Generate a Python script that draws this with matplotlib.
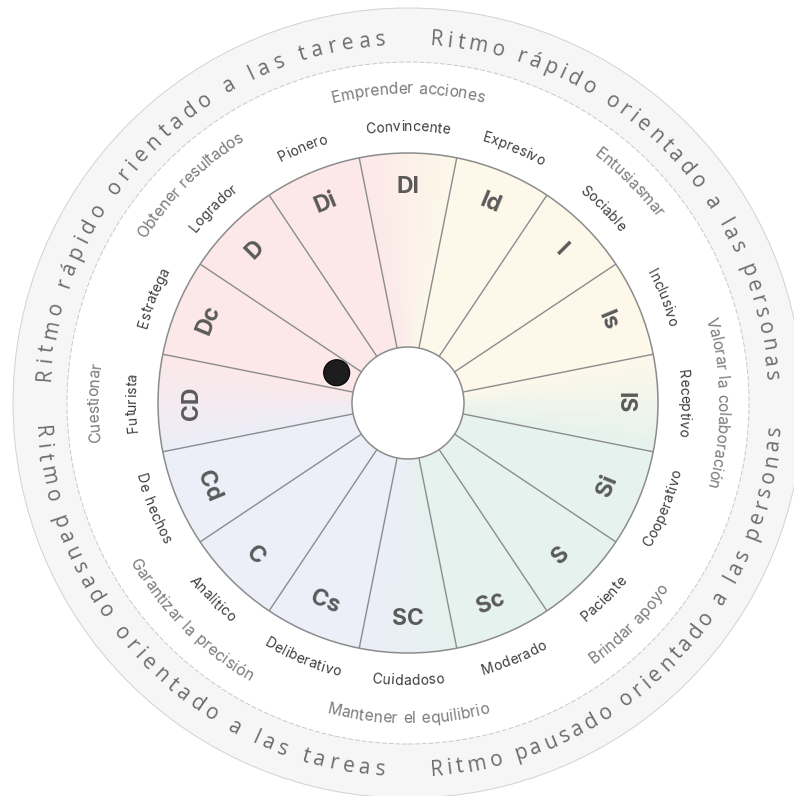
import numpy as np
import matplotlib
matplotlib.use('Agg')
import matplotlib.pyplot as plt
from matplotlib.patches import Wedge, Circle
from matplotlib.font_manager import FontProperties, findfont, get_font
import matplotlib.colors as mcolors

# ---------------- data ----------------
segments = ['DI', 'Di', 'D', 'Dc', 'CD', 'Cd', 'C', 'Cs',
            'SC', 'Sc', 'S', 'Si', 'IS', 'Is', 'I', 'Id']
segment_words = ['Convincente', 'Pionero', 'Logrador', 'Estratega', 'Futurista',
                 'De hechos', 'Analítico', 'Deliberativo', 'Cuidadoso', 'Moderado',
                 'Paciente', 'Cooperativo', 'Receptivo', 'Inclusivo', 'Sociable',
                 'Expresivo']
priorities = ['Emprender acciones', 'Obtener resultados', 'Cuestionar',
              'Garantizar la precisión', 'Mantener el equilibrio', 'Brindar apoyo',
              'Valorar la colaboración', 'Entusiasmar']
pace_labels = ['Ritmo rápido orientado a las personas',
               'Ritmo rápido orientado a las tareas',
               'Ritmo pausado orientado a las tareas',
               'Ritmo pausado orientado a las personas']
dot_angle = 157.0      # degrees
dot_radius = 0.31      # fraction of wheel radius

base_colors = {'D': '#fce8e9', 'I': '#fdf8ea', 'S': '#e6f2ee', 'C': '#eceef8'}

# ---------------- geometry / style ----------------
R_WHEEL = 250
R_HOLE = 56
R_RING_OUT = 395
R_RING_IN = 341
CX, CY = 408, 403   # pixel position of centre in the image

fig = plt.figure(figsize=(7.94, 7.96), dpi=100)
ax = fig.add_axes([0, 0, 1, 1])
ax.set_xlim(-CX, 794 - CX)
ax.set_ylim(CY - 796, CY)
ax.axis('off')

# outer grey ring
ax.add_patch(Wedge((0, 0), R_RING_OUT, 0, 360, width=R_RING_OUT - R_RING_IN,
                   facecolor='#f6f6f6', edgecolor='none', zorder=1))
ax.add_patch(Circle((0, 0), R_RING_OUT, facecolor='none', edgecolor='#d2d2d2',
                    lw=0.7, zorder=2))
ax.add_patch(Circle((0, 0), R_RING_IN, facecolor='none', edgecolor='#c9c9c9',
                    lw=0.7, linestyle=(0, (5, 2)), zorder=2))

# wheel segments
n = len(segments)
step = 360.0 / n
grid = np.linspace(-R_WHEEL, R_WHEEL, 400)
GX, GY = np.meshgrid(grid, grid)
PHI = np.degrees(np.arctan2(GY, GX)) % 360
for i, name in enumerate(segments):
    th = 90 + step * i
    t1, t2 = th - step / 2, th + step / 2
    mixed = name.isupper() and len(name) == 2
    if not mixed:
        ax.add_patch(Wedge((0, 0), R_WHEEL, t1, t2, facecolor=base_colors[name[0]],
                           edgecolor='none', zorder=3))
    else:
        c_cw = np.array(mcolors.to_rgb(base_colors[segments[(i - 1) % n][0]]))
        c_ccw = np.array(mcolors.to_rgb(base_colors[segments[(i + 1) % n][0]]))
        t = ((PHI - t1) % 360) / step
        t = np.clip(t, 0, 1)[..., None]
        img = c_cw * (1 - t) + c_ccw * t
        w = Wedge((0, 0), R_WHEEL, t1, t2, facecolor='none', edgecolor='none', zorder=3)
        ax.add_patch(w)
        im = ax.imshow(img, extent=(-R_WHEEL, R_WHEEL, -R_WHEEL, R_WHEEL),
                       origin='lower', zorder=3, interpolation='bilinear')
        im.set_clip_path(w)

# boundaries
for i in range(n):
    a = np.radians(90 + step * i + step / 2)
    ax.plot([R_HOLE * np.cos(a), R_WHEEL * np.cos(a)],
            [R_HOLE * np.sin(a), R_WHEEL * np.sin(a)],
            color='#8c8c8c', lw=1.0, zorder=4, solid_capstyle='butt')
ax.add_patch(Circle((0, 0), R_WHEEL, facecolor='none', edgecolor='#8c8c8c', lw=1.1, zorder=5))
ax.add_patch(Circle((0, 0), R_HOLE, facecolor='white', edgecolor='#8c8c8c', lw=1.1, zorder=5))

# dot
da = np.radians(dot_angle)
ax.add_patch(Circle((dot_radius * R_WHEEL * np.cos(da), dot_radius * R_WHEEL * np.sin(da)), 13,
                    facecolor='#1d1d1d', edgecolor='#000000', lw=0.8, zorder=6))


# ---------------- text helpers ----------------
def is_top(theta):
    theta = theta % 360
    return theta <= 180.0 + 1e-9


def arc_text(s, theta_c, r_c, fp, color, cap, tracking=0.0, total=None, space_scale=1.0):
    font = get_font(findfont(fp))
    font.set_size(fp.get_size_in_points(), 100)
    advs = []
    for ch in s:
        g = font.load_char(ord(ch))
        a = g.linearHoriAdvance / 65536.0
        if ch == ' ':
            a *= space_scale
        advs.append(a)
    if total is not None:
        tracking = (total - sum(advs)) / (len(s) - 1)
    tot = sum(advs) + tracking * (len(s) - 1)
    top = is_top(theta_c)
    pos = 0.0
    for ch, a in zip(s, advs):
        mid = pos + a / 2 - tot / 2
        pos += a + tracking
        if ch == ' ':
            continue
        d = np.degrees(mid / r_c)
        if top:
            th = theta_c - d
            rot = th - 90
            rb = r_c - cap / 2
        else:
            th = theta_c + d
            rot = th + 90
            rb = r_c + cap / 2
        x, y = rb * np.cos(np.radians(th)), rb * np.sin(np.radians(th))
        ax.text(x, y, ch, fontproperties=fp, color=color, rotation=rot,
                rotation_mode='anchor', ha='center', va='baseline', zorder=8)


fp_seg = FontProperties(family='Inter', weight='bold', size=16.5)
fp_word = FontProperties(family='Inter', size=10)
fp_prio = FontProperties(family='Inter', size=11.3)
fp_pace = FontProperties(family='Open Sans', size=15)

# segment labels
for i, name in enumerate(segments):
    th = 90 + step * i
    rot = th - 90 if is_top(th) else th + 90
    ax.text(216 * np.cos(np.radians(th)), 216 * np.sin(np.radians(th)), name,
            fontproperties=fp_seg, color='#5a5a5a', rotation=rot,
            rotation_mode='anchor', ha='center', va='center', zorder=8)

# segment words
for i, word in enumerate(segment_words):
    th = 90 + step * i
    arc_text(word, th, 277, fp_word, '#3c3c3c', cap=10, tracking=0.2, space_scale=1.5)

# priorities
for i, word in enumerate(priorities):
    th = 90 + 45 * i
    arc_text(word, th, 315, fp_prio, '#7a7a7a', cap=11, tracking=0.0, space_scale=1.25)

# pace labels in the outer ring
for i, lab in enumerate(pace_labels):
    th = 45 + 90 * i
    arc_text(lab, th, 366, fp_pace, '#6c6c6c', cap=15, total=530)

fig.savefig('out.png', dpi=100, facecolor='white')
